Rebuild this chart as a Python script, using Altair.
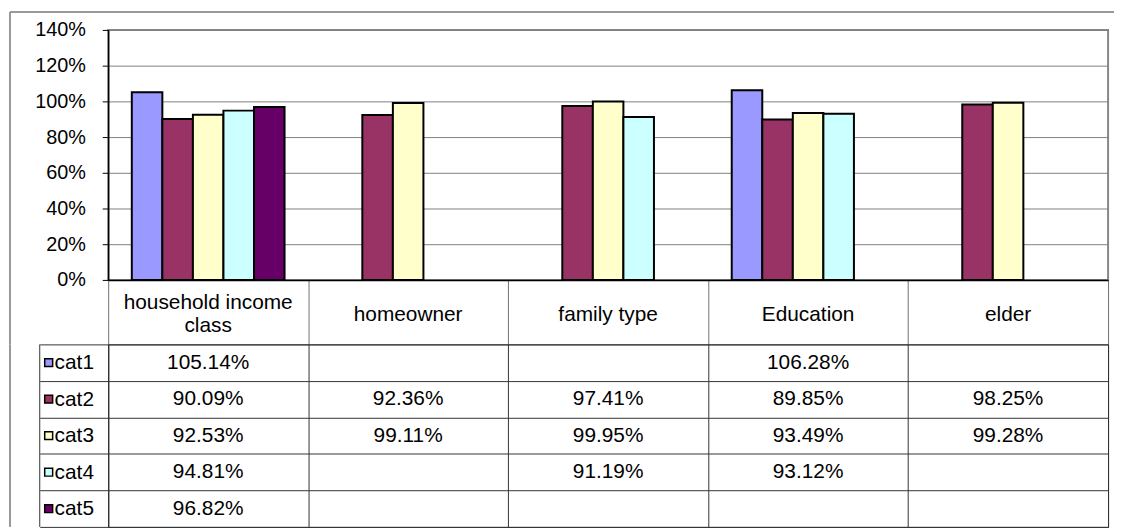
import altair as alt
import pandas as pd

categories = ["household income class", "homeowner", "family type", "Education", "elder"]
header_lines = [["household income", "class"], ["homeowner"], ["family type"], ["Education"], ["elder"]]
series = ["cat1", "cat2", "cat3", "cat4", "cat5"]
cat1 = [1.0514, None, None, 1.0628, None]
cat2 = [0.9009, 0.9236, 0.9741, 0.8985, 0.9825]
cat3 = [0.9253, 0.9911, 0.9995, 0.9349, 0.9928]
cat4 = [0.9481, None, 0.9119, 0.9312, None]
cat5 = [0.9682, None, None, None, None]
colors = ["#9999FF", "#993366", "#FFFFCC", "#CCFFFF", "#660066"]
y_ticks = [0, 0.2, 0.4, 0.6, 0.8, 1.0, 1.2, 1.4]

rows = []
for s, vals in zip(series, [cat1, cat2, cat3, cat4, cat5]):
    for c, v in zip(categories, vals):
        if v is not None:
            rows.append({"category": c, "series": s, "value": v})
df = pd.DataFrame(rows)
hdr_df = pd.DataFrame({"category": categories, "label": header_lines,
                       "n": [len(h) for h in header_lines]})
one = pd.DataFrame({"a": [0]})
ser_df = pd.DataFrame({"series": series})

W, H = 1008, 252
HEADER = 65
TH = 184
FONT = "Liberation Sans"
LINE = "#333333"
LH = 24

xscale = alt.Scale(domain=categories, paddingInner=0, paddingOuter=0)
yrow = alt.Scale(domain=series, paddingInner=0, paddingOuter=0)
cscale = alt.Scale(domain=series, range=colors)

bars = alt.Chart(df).mark_bar(stroke="black", strokeWidth=2).encode(
    x=alt.X("category:N", scale=xscale, sort=categories, title=None,
            axis=alt.Axis(orient="bottom", tickBand="extent", tickSize=HEADER,
                          tickColor="#707070", tickWidth=1, domainColor="black",
                          domainWidth=1.5, labels=False, grid=False)),
    xOffset=alt.XOffset("series:N", scale=alt.Scale(domain=series, paddingInner=0, paddingOuter=0.773)),
    y=alt.Y("value:Q", scale=alt.Scale(domain=[0, 1.4], nice=False), title=None,
            axis=alt.Axis(values=y_ticks, format=".0%", tickSize=6, labelPadding=17,
                          labelFontSize=20, labelColor="black", tickColor="black",
                          domainColor="black", domainWidth=1.5, gridColor="#808080",
                          gridWidth=1)),
    color=alt.Color("series:N", scale=cscale, legend=None),
)

hdr_one = alt.Chart(hdr_df).transform_filter("datum.n == 1").mark_text(
    fontSize=21, font=FONT, color="black", baseline="middle", lineHeight=LH).encode(
    x=alt.X("category:N", scale=xscale, sort=categories),
    y=alt.value(H + HEADER / 2 + 2.5),
    text="label",
)
hdr_two = alt.Chart(hdr_df).transform_filter("datum.n == 2").mark_text(
    fontSize=21, font=FONT, color="black", baseline="middle", lineHeight=LH).encode(
    x=alt.X("category:N", scale=xscale, sort=categories),
    y=alt.value(H + HEADER / 2 - LH / 2 + 2.5),
    text="label",
)

border_top = alt.Chart(one).mark_rule(color="#999999", strokeWidth=2).encode(
    x=alt.value(-99), x2=alt.value(1014), y=alt.value(-18))
border_left = alt.Chart(one).mark_rule(color="#999999", strokeWidth=2).encode(
    x=alt.value(-99), y=alt.value(-18), y2=alt.value(H + HEADER))

top = alt.layer(border_top, border_left, bars, hdr_one, hdr_two).properties(
    width=W, height=H, view=alt.ViewBackground(stroke="#888888", strokeWidth=2))

table_text = alt.Chart(df).mark_text(fontSize=21, font=FONT, color="black").encode(
    x=alt.X("category:N", scale=xscale, sort=categories, title=None,
            axis=alt.Axis(labels=False, ticks=False, domain=False, grid=True,
                          tickBand="extent", gridColor=LINE, gridWidth=1)),
    y=alt.Y("series:N", scale=yrow, title=None,
            axis=alt.Axis(tickBand="extent", tickSize=69, tickColor=LINE, grid=True,
                          gridColor=LINE, domain=True, domainColor=LINE,
                          labelAlign="left", labelPadding=-14.5, labelFontSize=21,
                          labelColor="black", labelBaseline="middle")),
    text=alt.Text("value:Q", format=".2%"),
)

squares = alt.Chart(ser_df).mark_square(size=64, stroke="black", strokeWidth=1.5, opacity=1).encode(
    x=alt.value(-60),
    y=alt.Y("series:N", scale=yrow),
    fill=alt.Fill("series:N", scale=cscale, legend=None),
)

left_col = alt.Chart(one).mark_rule(color=LINE, strokeWidth=1).encode(
    x=alt.value(-69), y=alt.value(0), y2=alt.value(TH))
left_outer = alt.Chart(one).mark_rule(color="#999999", strokeWidth=2).encode(
    x=alt.value(-99), y=alt.value(0), y2=alt.value(TH))

table = alt.layer(table_text, squares, left_col, left_outer).properties(
    width=W, height=TH, view=alt.ViewBackground(stroke=LINE, strokeWidth=1))

chart = alt.vconcat(top, table, spacing=HEADER, bounds="flush").properties(padding=0).configure(
    font=FONT).configure_axis(labelFont=FONT)

chart.save("out.html", embed_options={"renderer": "svg", "actions": False})
